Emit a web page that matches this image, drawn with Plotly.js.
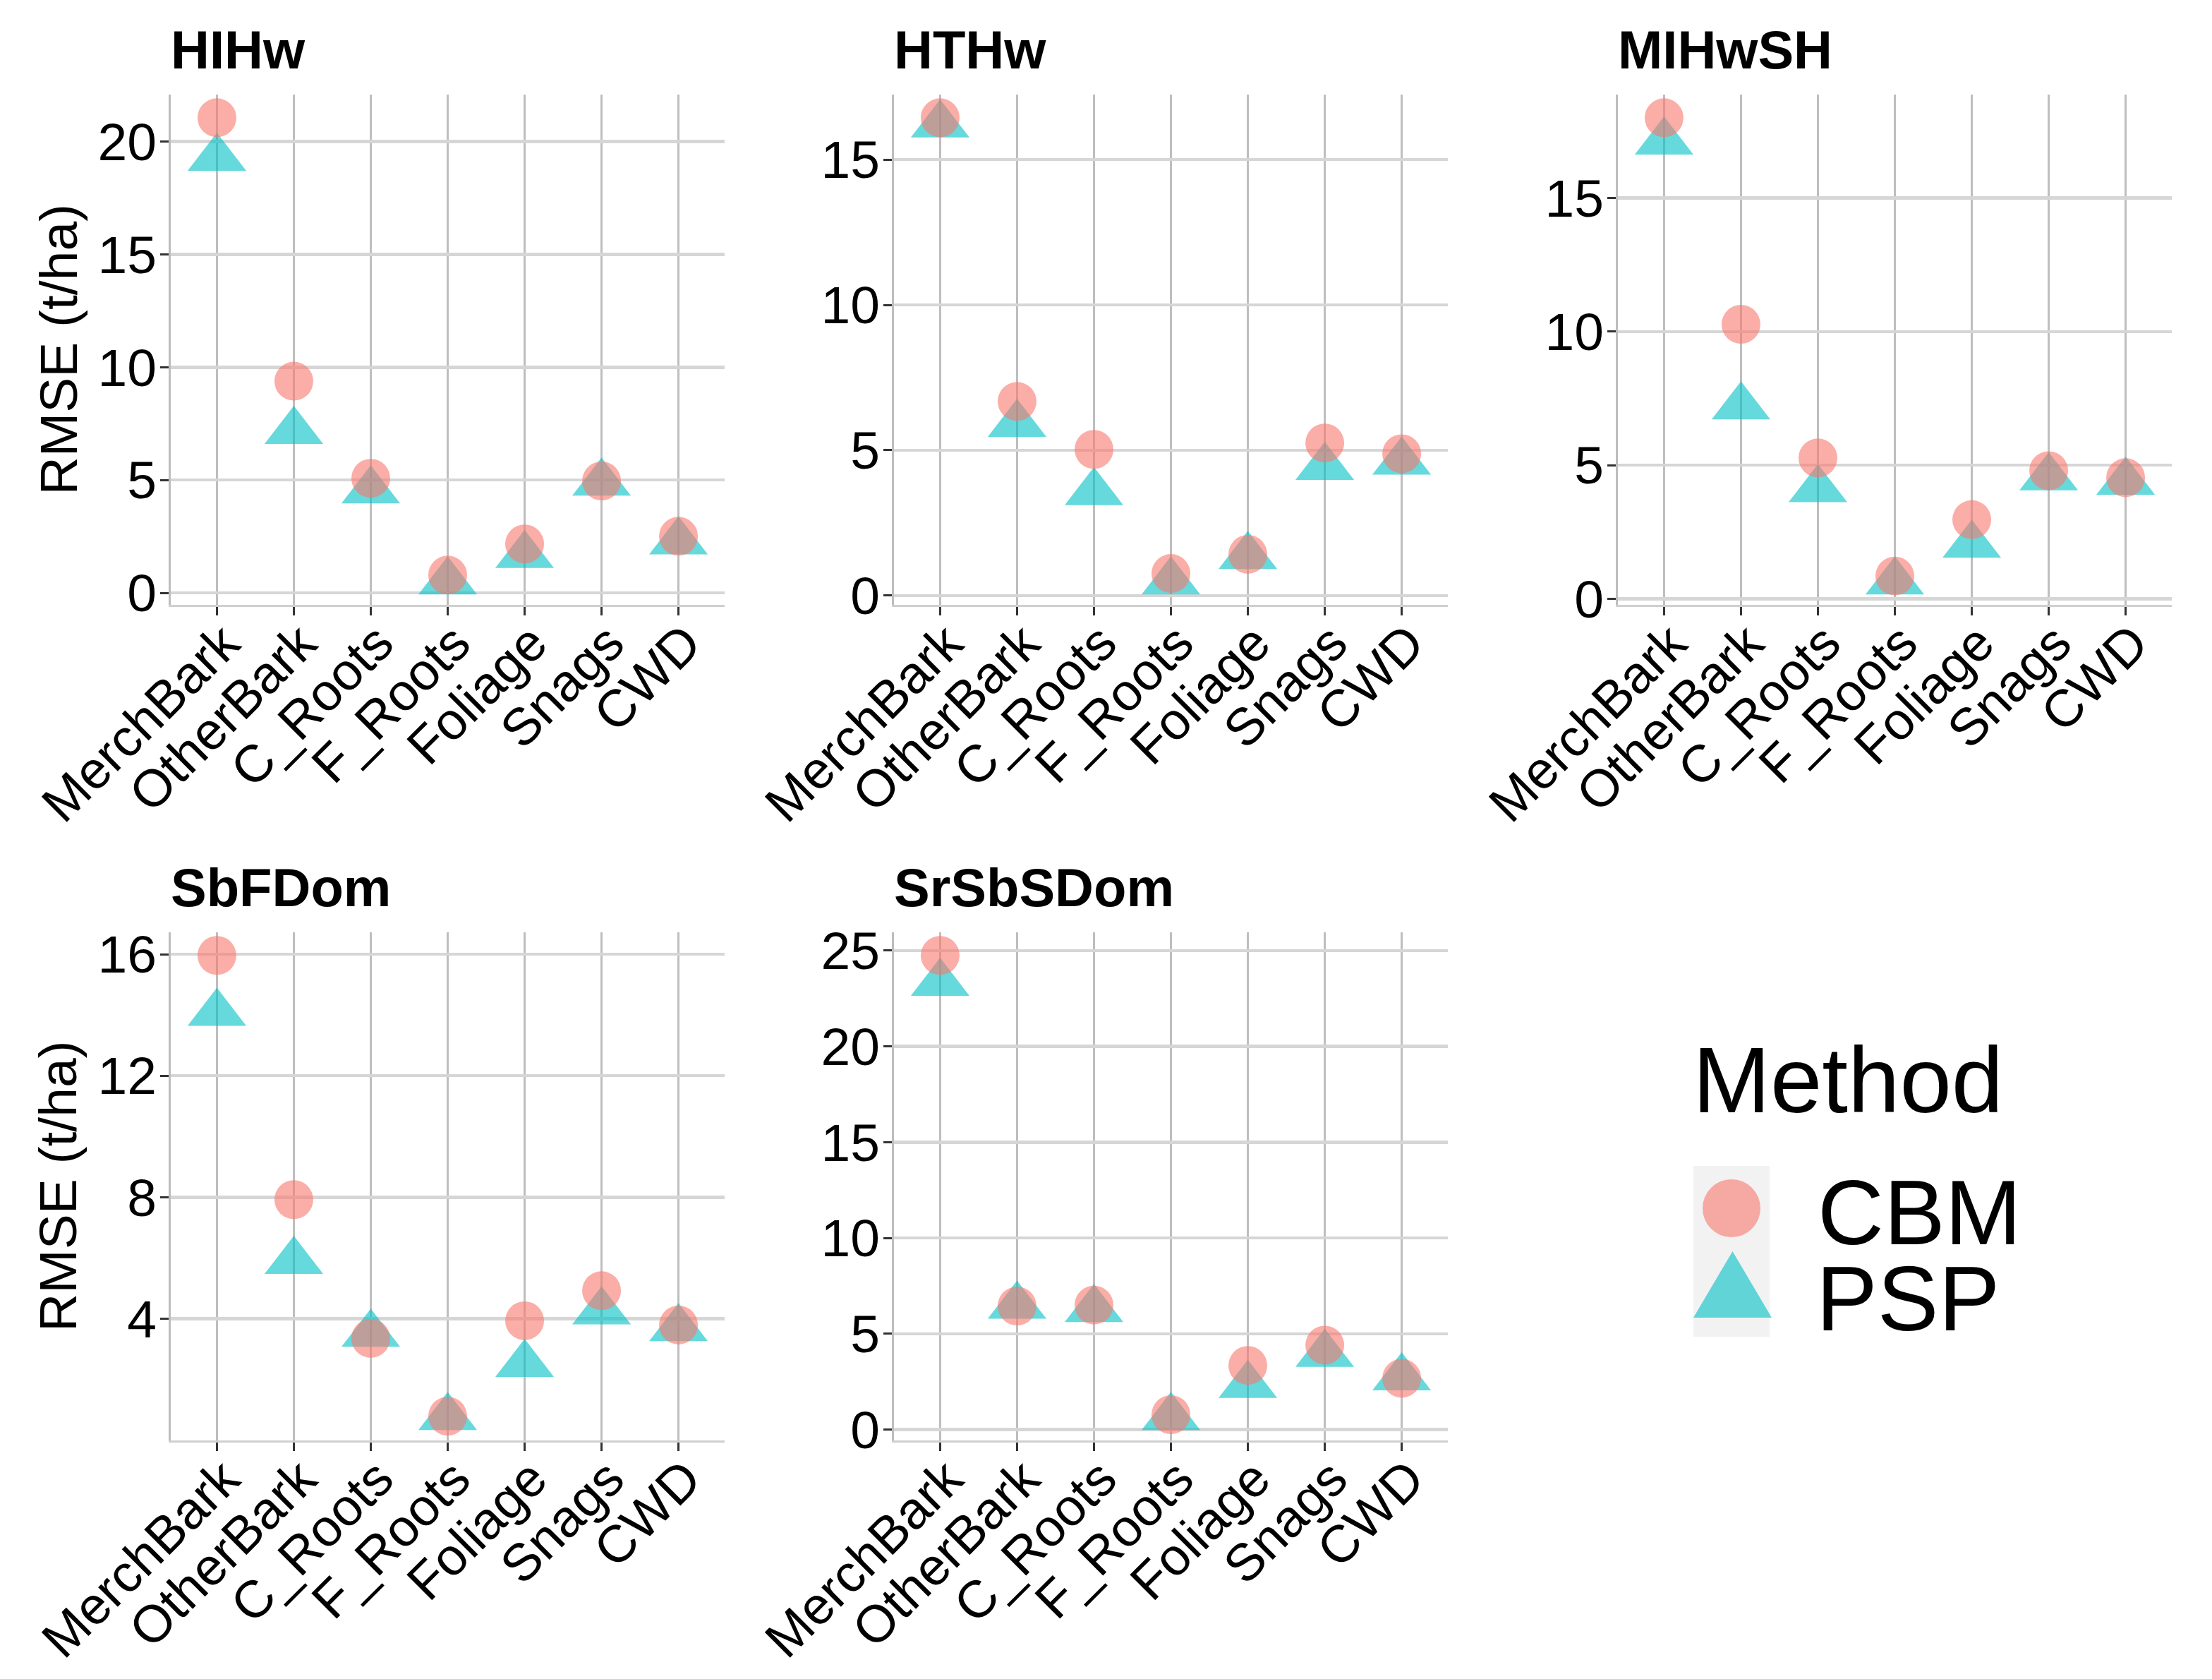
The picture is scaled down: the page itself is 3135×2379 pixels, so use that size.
<!DOCTYPE html>
<html>
<head>
<meta charset="utf-8">
<script src="https://cdn.plot.ly/plotly-3.0.1.min.js"></script>
<style>
html, body { margin: 0; padding: 0; background: #ffffff; }
#chart { width: 3135px; height: 2379px; }
</style>
</head>
<body>
<div id="chart"></div>
<script>
// ---------------- DATA ----------------
const categories = ['MerchBark', 'OtherBark', 'C_Roots', 'F_Roots', 'Foliage', 'Snags', 'CWD'];
const panelNames = ['HIHw', 'HTHw', 'MIHwSH', 'SbFDom', 'SrSbSDom'];
const methods = ['CBM', 'PSP'];

const cbm_HIHw     = [21.05, 9.38, 5.08, 0.79, 2.17, 4.96, 2.51];
const psp_HIHw     = [19.26, 7.16, 4.53, 0.50, 1.67, 4.87, 2.27];
const cbm_HTHw     = [16.44, 6.68, 5.03, 0.76, 1.42, 5.25, 4.88];
const psp_HTHw     = [16.20, 5.90, 3.55, 0.48, 1.35, 4.42, 4.60];
const cbm_MIHwSH   = [18.00, 10.27, 5.27, 0.85, 2.96, 4.79, 4.53];
const psp_MIHwSH   = [17.10, 7.19, 4.09, 0.64, 2.01, 4.53, 4.37];
const cbm_SbFDom   = [15.96, 7.92, 3.35, 0.79, 3.93, 4.92, 3.79];
const psp_SbFDom   = [14.06, 5.89, 3.49, 0.75, 2.50, 4.23, 3.68];
const cbm_SrSbSDom = [24.75, 6.45, 6.50, 0.78, 3.35, 4.41, 2.68];
const psp_SrSbSDom = [23.30, 6.45, 6.28, 0.64, 2.32, 3.94, 2.71];

const ticks_HIHw     = [0, 5, 10, 15, 20];
const ticks_HTHw     = [0, 5, 10, 15];
const ticks_MIHwSH   = [0, 5, 10, 15];
const ticks_SbFDom   = [4, 8, 12, 16];
const ticks_SrSbSDom = [0, 5, 10, 15, 20, 25];

const yTitle = 'RMSE (t/ha)';
const legendTitle = 'Method';

// ---------------- LAYOUT HELPERS ----------------
const W = 3135, H = 2379;
const FONT = 'Liberation Sans, Arial, Helvetica, sans-serif';
const px = v => v / W;
const py = v => 1 - v / H;

const cbmList = [cbm_HIHw, cbm_HTHw, cbm_MIHwSH, cbm_SbFDom, cbm_SrSbSDom];
const pspList = [psp_HIHw, psp_HTHw, psp_MIHwSH, psp_SbFDom, psp_SrSbSDom];
const tickList = [ticks_HIHw, ticks_HTHw, ticks_MIHwSH, ticks_SbFDom, ticks_SrSbSDom];

// plot-area pixel boxes: [left, right], [top, bottom]
const colX = [[242, 1027], [1267, 2052], [2293, 3078]];
const rowY = [[134, 857], [1321, 2041]];
const boxes = [
  [colX[0], rowY[0]], [colX[1], rowY[0]], [colX[2], rowY[0]],
  [colX[0], rowY[1]], [colX[1], rowY[1]]
];

const data = [];
const layout = {
  width: W, height: H,
  margin: {l: 0, r: 0, t: 0, b: 0, autoexpand: false},
  paper_bgcolor: '#ffffff',
  plot_bgcolor: '#ffffff',
  showlegend: false,
  font: {family: FONT, color: '#000000'},
  annotations: [],
  shapes: []
};

panelNames.forEach((name, i) => {
  const k = i + 1;
  const xa = 'x' + k, ya = 'y' + k;
  const cbm = cbmList[i], psp = pspList[i];
  const all = cbm.concat(psp);
  const lo = Math.min(...all), hi = Math.max(...all);
  const pad = 0.05 * (hi - lo);

  data.push({
    type: 'scatter', mode: 'markers', name: methods[1],
    x: categories, y: psp, xaxis: xa, yaxis: ya,
    cliponaxis: false, hoverinfo: 'skip',
    marker: {symbol: 'triangle-up', size: 72, color: '#00BFC4', opacity: 0.6, line: {width: 0}}
  });
  data.push({
    type: 'scatter', mode: 'markers', name: methods[0],
    x: categories, y: cbm, xaxis: xa, yaxis: ya,
    cliponaxis: false, hoverinfo: 'skip',
    marker: {symbol: 'circle', size: 55, color: '#F8766D', opacity: 0.6, line: {width: 0}}
  });

  const [xr, yr] = boxes[i];
  layout['xaxis' + k] = {
    domain: [px(xr[0]), px(xr[1])],
    anchor: ya,
    type: 'category',
    categoryorder: 'array', categoryarray: categories,
    range: [-0.6, categories.length - 1 + 0.6],
    showgrid: true, gridcolor: '#BEBEBE', gridwidth: 3.5,
    showline: true, linecolor: '#CFCFCF', linewidth: 3,
    zeroline: false,
    ticks: 'outside', ticklen: 12, tickwidth: 3, tickcolor: '#333333',
    tickangle: -45,
    ticklabelstandoff: -34,
    ticklabelshift: 10,
    tickfont: {family: FONT, size: 74, color: '#000000'},
    fixedrange: true
  };
  layout['yaxis' + k] = {
    domain: [py(yr[1]), py(yr[0])],
    anchor: xa,
    range: [lo - pad, hi + pad],
    tickmode: 'array', tickvals: tickList[i], ticktext: tickList[i].map(String),
    showgrid: true, gridcolor: '#D6D6D6', gridwidth: 4.5,
    showline: true, linecolor: '#BDBDBD', linewidth: 3,
    zeroline: false,
    ticks: 'outside', ticklen: 12, tickwidth: 3, tickcolor: '#333333',
    ticklabelstandoff: -10,
    tickfont: {family: FONT, size: 75, color: '#000000'},
    fixedrange: true
  };

  // panel title
  layout.annotations.push({
    xref: 'paper', yref: 'paper',
    x: px(xr[0] - 2), y: py(yr[0] - 64),
    xanchor: 'left', yanchor: 'middle',
    text: name, showarrow: false,
    font: {family: FONT, size: 76, color: '#000000', weight: 700}
  });
  // y-axis title on the left column only
  if (i === 0 || i === 3) {
    layout.annotations.push({
      xref: 'paper', yref: 'paper',
      x: px(82), y: py((yr[0] + yr[1]) / 2),
      xanchor: 'center', yanchor: 'middle',
      textangle: -90, text: yTitle, showarrow: false,
      font: {family: FONT, size: 75, color: '#000000'}
    });
  }
});

// ---------------- LEGEND (drawn manually, large keys) ----------------
layout.shapes.push({
  type: 'rect', xref: 'paper', yref: 'paper',
  x0: px(2400), x1: px(2508), y0: py(1894), y1: py(1652),
  fillcolor: '#F2F2F2', line: {width: 0}, layer: 'below'
});
layout.shapes.push({
  type: 'circle', xref: 'paper', yref: 'paper',
  x0: px(2454 - 41), x1: px(2454 + 41), y0: py(1712 + 41), y1: py(1712 - 41),
  fillcolor: 'rgba(248,118,109,0.6)', line: {width: 0}
});
const triPath = 'M ' + px(2400) + ' ' + py(1867) +
                ' L ' + px(2511) + ' ' + py(1867) +
                ' L ' + px(2455.5) + ' ' + py(1773) + ' Z';
layout.shapes.push({
  type: 'path', xref: 'paper', yref: 'paper', path: triPath,
  fillcolor: 'rgba(0,191,196,0.6)', line: {width: 0}
});
layout.annotations.push({
  xref: 'paper', yref: 'paper', x: px(2397), y: py(1530),
  xanchor: 'left', yanchor: 'middle', text: legendTitle, showarrow: false,
  font: {family: FONT, size: 132, color: '#000000'}
});
layout.annotations.push({
  xref: 'paper', yref: 'paper', x: px(2574), y: py(1718),
  xanchor: 'left', yanchor: 'middle', text: methods[0], showarrow: false,
  font: {family: FONT, size: 130, color: '#000000'}
});
layout.annotations.push({
  xref: 'paper', yref: 'paper', x: px(2572), y: py(1840),
  xanchor: 'left', yanchor: 'middle', text: methods[1], showarrow: false,
  font: {family: FONT, size: 130, color: '#000000'}
});

Plotly.newPlot('chart', data, layout, {displayModeBar: false, staticPlot: true});
</script>
</body>
</html>
